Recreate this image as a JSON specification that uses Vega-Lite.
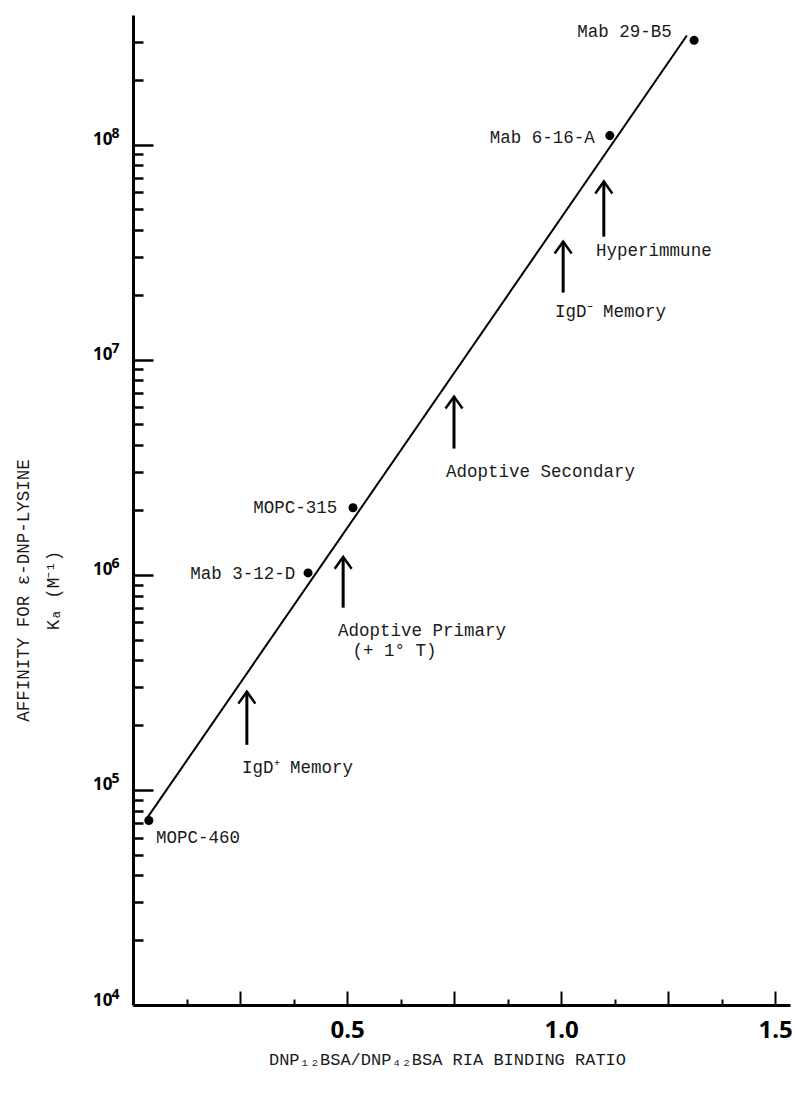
{
  "$schema": "https://vega.github.io/schema/vega-lite/v6.json",
  "autosize": {"type": "none"},
  "padding": {"left": 133, "top": 15, "right": 4, "bottom": 90},
  "width": 657,
  "height": 990,
  "background": "white",
  "config": {
    "view": {"stroke": null},
    "axis": {"grid": false, "domainColor": "black", "tickColor": "black", "labelColor": "black"}
  },
  "datasets": {
    "antibodies": [
      {"name": "MOPC-460", "ratio": 0.037, "ka": 72000},
      {"name": "Mab 3-12-D", "ratio": 0.409, "ka": 1020000},
      {"name": "MOPC-315", "ratio": 0.514, "ka": 2050000},
      {"name": "Mab 6-16-A", "ratio": 1.114, "ka": 110000000},
      {"name": "Mab 29-B5", "ratio": 1.311, "ka": 305000000}
    ],
    "fit": [
      {"ratio": 0.03, "ka": 72500},
      {"ratio": 1.294, "ka": 321000000}
    ],
    "arrows": [
      {"group": "IgD+ Memory", "ratio": 0.266, "tip": 286000, "tail": 162000},
      {"group": "Adoptive Primary", "ratio": 0.491, "tip": 1210000, "tail": 703000},
      {"group": "Adoptive Secondary", "ratio": 0.75, "tip": 6730000, "tail": 3860000},
      {"group": "IgD- Memory", "ratio": 1.005, "tip": 35400000, "tail": 20500000},
      {"group": "Hyperimmune", "ratio": 1.1, "tip": 67300000, "tail": 37300000}
    ],
    "labels": [
      {"text": "Mab 29-B5", "ratio": 1.259, "ka": 332000000, "side": "end"},
      {"text": "Mab 6-16-A", "ratio": 1.079, "ka": 107000000, "side": "end"},
      {"text": "MOPC-315", "ratio": 0.477, "ka": 2050000, "side": "end"},
      {"text": "Mab 3-12-D", "ratio": 0.379, "ka": 1010000, "side": "end"},
      {"text": "MOPC-460", "ratio": 0.054, "ka": 59800, "side": "start"},
      {"text": "IgD⁺ Memory", "ratio": 0.2547, "ka": 126500, "side": "start"},
      {"text": "Adoptive Primary", "ratio": 0.479, "ka": 549000, "side": "start"},
      {"text": "(+ 1° T)", "ratio": 0.513, "ka": 441000, "side": "start"},
      {"text": "Adoptive Secondary", "ratio": 0.731, "ka": 3010000, "side": "start"},
      {"text": "IgD⁻ Memory", "ratio": 0.986, "ka": 16600000, "side": "start"},
      {"text": "Hyperimmune", "ratio": 1.082, "ka": 32100000, "side": "start"}
    ]
  },
  "layer": [
    {
      "data": {"name": "fit"},
      "mark": {"type": "line", "color": "black", "strokeWidth": 2},
      "encoding": {
        "x": {
          "field": "ratio", "type": "quantitative",
          "scale": {"domain": [0, 1.535], "nice": false, "zero": false},
          "axis": {
            "orient": "bottom", "values": [0.5, 1, 1.5], "format": ".1f",
            "ticks": false, "domain": true, "domainWidth": 3, "domainColor": "black",
            "labelFont": "Noto Sans", "labelFontWeight": "bold", "labelFontSize": 24,
            "labelBaseline": "alphabetic", "labelPadding": 32, "labelColor": "black",
            "labelFlush": false, "labelOverlap": false,
            "title": "DNP₁₂BSA/DNP₄₂BSA RIA BINDING RATIO",
            "titleFont": "Liberation Mono", "titleFontSize": 17, "titleFontWeight": "normal",
            "titleColor": "#1a1a1a", "titleX": 314, "titleY": 59,
            "titleBaseline": "alphabetic", "titleAlign": "center"
          }
        },
        "y": {
          "field": "ka", "type": "quantitative",
          "scale": {"type": "log", "domain": [10000, 400000000], "nice": false},
          "axis": {
            "orient": "left", "values": [10000, 100000, 1000000, 10000000, 100000000],
            "labelExpr": "'10'", "ticks": false, "domain": true, "domainWidth": 3,
            "labelFont": "Noto Sans", "labelFontWeight": "bold", "labelFontSize": 17,
            "labelBaseline": "alphabetic", "labelAlign": "right", "labelPadding": 21,
            "labelOverlap": false, "labelFlush": false,
            "title": ["AFFINITY FOR ε-DNP-LYSINE", "Kₐ (M⁻¹)"],
            "titleFont": "Liberation Mono", "titleFontSize": 17.5, "titleFontWeight": "normal",
            "titleColor": "#1a1a1a", "titleAngle": -90, "titleX": -105, "titleY": 575,
            "titleBaseline": "alphabetic", "titleAlign": "center", "titleLineHeight": 30
          }
        }
      }
    },
    {
      "data": {"name": "antibodies"},
      "mark": {"type": "circle", "size": 82, "color": "black", "opacity": 1},
      "encoding": {
        "x": {
          "field": "ratio", "type": "quantitative",
          "scale": {"domain": [0, 1.535], "nice": false, "zero": false},
          "axis": {
            "orient": "bottom", "values": [0.25, 0.5, 0.75, 1, 1.25, 1.5],
            "labels": false, "domain": false, "tickSize": -14, "tickWidth": 2,
            "tickColor": "black", "title": null
          }
        },
        "y": {
          "field": "ka", "type": "quantitative",
          "scale": {"type": "log", "domain": [10000, 400000000], "nice": false},
          "axis": {
            "orient": "left", "values": [10000, 100000, 1000000, 10000000, 100000000],
            "labels": false, "domain": false, "tickSize": -20, "tickWidth": 2.5,
            "tickColor": "black", "title": null
          }
        }
      }
    },
    {
      "data": {"name": "arrows"},
      "mark": {"type": "rule", "color": "black", "strokeWidth": 3},
      "encoding": {
        "x": {
          "field": "ratio", "type": "quantitative",
          "scale": {"domain": [0, 1.535], "nice": false, "zero": false},
          "axis": {
            "orient": "bottom", "values": [0.125, 0.375, 0.625, 0.875, 1.125, 1.375],
            "labels": false, "domain": false, "tickSize": -6, "tickWidth": 2,
            "tickColor": "black", "title": null
          }
        },
        "y": {
          "field": "tail", "type": "quantitative",
          "scale": {"type": "log", "domain": [10000, 400000000], "nice": false},
          "axis": {
            "orient": "left",
            "values": [20000, 30000, 40000, 50000, 60000, 70000, 80000, 90000,
                       200000, 300000, 400000, 500000, 600000, 700000, 800000, 900000,
                       2000000, 3000000, 4000000, 5000000, 6000000, 7000000, 8000000, 9000000,
                       20000000, 30000000, 40000000, 50000000, 60000000, 70000000, 80000000, 90000000,
                       200000000, 300000000],
            "labels": false, "domain": false, "tickSize": -10, "tickWidth": 2.5,
            "tickColor": "black", "title": null
          }
        },
        "y2": {"field": "tip"}
      }
    },
    {
      "data": {"name": "arrows"},
      "mark": {"type": "point", "shape": "M -1 1.4 L 0 0 L 1 1.4", "size": 289, "filled": false, "stroke": "black", "strokeWidth": 2.5, "opacity": 1},
      "encoding": {
        "x": {
          "field": "ratio", "type": "quantitative",
          "scale": {"domain": [0, 1.535], "nice": false, "zero": false},
          "axis": null
        },
        "y": {
          "field": "tip", "type": "quantitative",
          "scale": {"type": "log", "domain": [10000, 400000000], "nice": false},
          "axis": {
            "orient": "left", "values": [10000, 100000, 1000000, 10000000, 100000000],
            "labelExpr": "datum.value < 50000 ? '4' : datum.value < 500000 ? '5' : datum.value < 5000000 ? '6' : datum.value < 50000000 ? '7' : '8'",
            "ticks": false, "domain": false,
            "labelFont": "Noto Sans", "labelFontWeight": "bold", "labelFontSize": 14,
            "labelBaseline": "alphabetic", "labelAlign": "right", "labelPadding": 14,
            "labelOffset": -7, "labelOverlap": false, "labelFlush": false, "title": null
          }
        }
      }
    },
    {
      "data": {"name": "labels"},
      "transform": [{"filter": "datum.side == 'end'"}],
      "mark": {"type": "text", "font": "Liberation Mono", "fontSize": 17.5, "align": "right", "baseline": "middle", "color": "#1a1a1a"},
      "encoding": {
        "x": {"field": "ratio", "type": "quantitative", "scale": {"domain": [0, 1.535], "nice": false, "zero": false}, "axis": null},
        "y": {"field": "ka", "type": "quantitative", "scale": {"type": "log", "domain": [10000, 400000000], "nice": false}, "axis": null},
        "text": {"field": "text"}
      }
    },
    {
      "data": {"name": "labels"},
      "transform": [{"filter": "datum.side == 'start'"}],
      "mark": {"type": "text", "font": "Liberation Mono", "fontSize": 17.5, "align": "left", "baseline": "middle", "color": "#1a1a1a"},
      "encoding": {
        "x": {"field": "ratio", "type": "quantitative", "scale": {"domain": [0, 1.535], "nice": false, "zero": false}, "axis": null},
        "y": {"field": "ka", "type": "quantitative", "scale": {"type": "log", "domain": [10000, 400000000], "nice": false}, "axis": null},
        "text": {"field": "text"}
      }
    }
  ],
  "resolve": {"axis": {"x": "independent", "y": "independent"}}
}
